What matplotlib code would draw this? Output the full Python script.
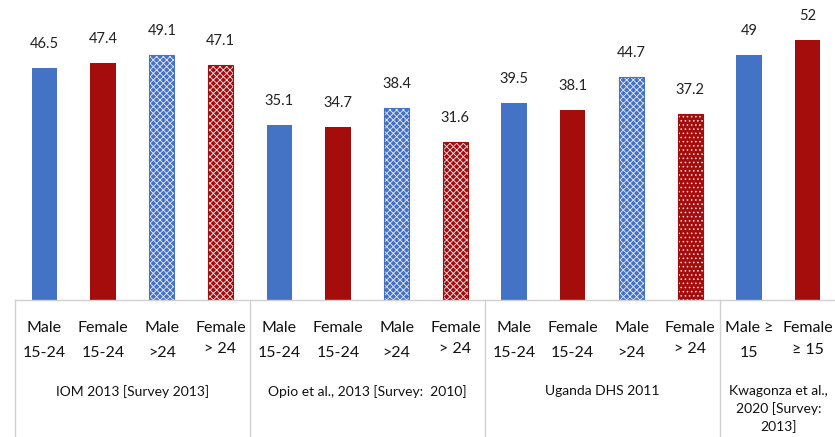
import matplotlib
matplotlib.use("Agg")
import matplotlib.pyplot as plt
import matplotlib.transforms as mtransforms

plt.rcParams['font.family'] = ['Lato', 'DejaVu Sans']
plt.rcParams['hatch.linewidth'] = 0.6

# data
values = [46.5, 47.4, 49.1, 47.1, 35.1, 34.7, 38.4, 31.6, 39.5, 38.1, 44.7, 37.2, 49, 52]
value_labels = ["46.5", "47.4", "49.1", "47.1", "35.1", "34.7", "38.4", "31.6",
                "39.5", "38.1", "44.7", "37.2", "49", "52"]
sex = ["M", "F", "M", "F", "M", "F", "M", "F", "M", "F", "M", "F", "M", "F"]
hatches = [None, None, "xxxxx", "xxxxx", None, None, "xxxxx", "xxxxx",
           None, None, "xxxxx", "....", None, None]
tick_labels = ["Male\n15-24", "Female\n15-24", "Male\n>24", "Female\n> 24",
               "Male\n15-24", "Female\n15-24", "Male\n>24", "Female\n> 24",
               "Male\n15-24", "Female\n15-24", "Male\n>24", "Female\n> 24",
               "Male \u2265\n15", "Female\n\u2265 15"]
groups = ["IOM 2013 [Survey 2013]", "Opio et al., 2013 [Survey:  2010]",
          "Uganda DHS 2011", "Kwagonza et al.,\n2020 [Survey:\n2013]"]
group_sizes = [4, 4, 4, 2]

colors = {"M": "#4472C4", "F": "#A50D0D"}

fig = plt.figure(figsize=(8.35, 4.37), dpi=100)
ax = fig.add_axes([15 / 835, 1 - 300 / 437, 822 / 835, 300 / 437])

for i, v in enumerate(values):
    c = colors[sex[i]]
    if hatches[i]:
        ax.bar(i, v, width=0.43, color=c, edgecolor="#eaeaf0", hatch=hatches[i], linewidth=0)
        ax.bar(i, v, width=0.43, fill=False, edgecolor=c, linewidth=0.8)
    else:
        ax.bar(i, v, width=0.43, color=c, linewidth=0)
    ax.annotate(value_labels[i], (i, v), xytext=(0, 12), textcoords="offset points",
                ha="center", va="bottom", fontsize=10.5, color="#222222")

ax.set_xlim(-0.5, len(values) - 0.5)
ax.set_ylim(0, 60)
ax.set_xticks([])
ax.set_yticks([])
for s in ["top", "right", "left"]:
    ax.spines[s].set_visible(False)
ax.spines["bottom"].set_color("#d0d0d0")
ax.spines["bottom"].set_linewidth(1)

trans = mtransforms.blended_transform_factory(ax.transData, ax.transAxes)

for i, lab in enumerate(tick_labels):
    top, bottom = lab.split("\n")
    ax.text(i, -0.093, top, transform=trans, ha="center", va="center", fontsize=11.5, color="#111111")
    dy = -0.163 if bottom.startswith(">") and " " in bottom else -0.177
    if "\u2265" in bottom:
        dy = -0.165
    ax.text(i, dy, bottom, transform=trans, ha="center", va="center", fontsize=11.5, color="#111111")

start = 0
for g, n in zip(groups, group_sizes):
    ax.plot([start - 0.5, start - 0.5], [0, -0.46], transform=trans, color="#d0d0d0",
            lw=1, clip_on=False)
    center = start + (n - 1) / 2
    ax.text(center, -0.283, g, transform=trans, ha="center", va="top", fontsize=10,
            color="#111111", linespacing=1.45)
    start += n

fig.savefig("out.png", dpi=100)
